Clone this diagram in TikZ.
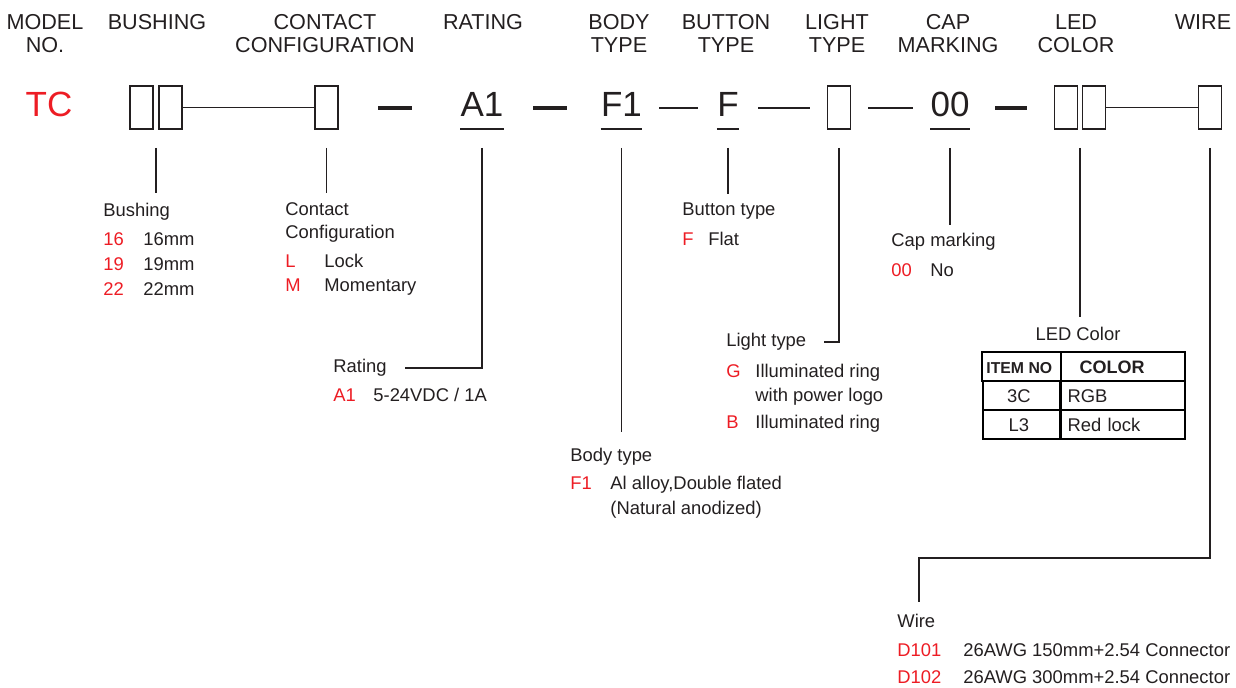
\documentclass[tikz,border=0pt]{standalone}
\usepackage{fontspec}
\setmainfont{Liberation Sans}
\usetikzlibrary{calc,matrix}

\definecolor{ink}{RGB}{35,31,32}
\definecolor{codered}{RGB}{237,28,36}

\begin{document}
\begin{tikzpicture}[
    x=0.5pt, y=-0.5pt,
    color=ink,
    hdr/.style={font=\fontsize{10.8}{11.5}\selectfont, align=center, anchor=base, inner sep=0},
    codetxt/.style={font=\fontsize{17.5}{20}\selectfont, anchor=base, inner sep=0, text height=12.5pt, text depth=3.5pt},
    codebox/.style={draw, line width=0.9pt, minimum width=11.5pt, minimum height=21.5pt, inner sep=0},
    thickbar/.style={fill, inner sep=0, minimum height=2.3pt},
    thinbar/.style={fill, inner sep=0, minimum height=0.8pt},
    leader/.style={line width=0.85pt},
    lbl/.style={font=\fontsize{9.2}{11.5}\selectfont, anchor=base west, inner sep=0},
    opt/.style={lbl, text=codered}
]
\useasboundingbox (0,0) rectangle (1236,688);

% Column headings (two-line ones sit on their last line)
\node[hdr] (hModel) at (45,53) {MODEL\\NO.};
\node[hdr] (hBush) at (157,30) {BUSHING};
\node[hdr] (hContact) at (325,53) {CONTACT\\CONFIGURATION};
\node[hdr] (hRating) at (483,30) {RATING};
\node[hdr] (hBody) at (619,53) {BODY\\TYPE};
\node[hdr] (hButton) at (726,53) {BUTTON\\TYPE};
\node[hdr] (hLight) at (837,53) {LIGHT\\TYPE};
\node[hdr] (hCap) at (948,53) {CAP\\MARKING};
\node[hdr] (hLed) at (1076,53) {LED\\COLOR};
\node[hdr] (hWire) at (1203,30) {WIRE};

% Part number
\node[codetxt, text=codered] (tc) at (49,117) {TC};
\node[codebox] (bushA) at (141.5,107.5) {};
\node[codebox] (bushB) at (170.5,107.5) {};
\node[codebox] (contact) at (326.5,107.5) {};
\node[thickbar, minimum width=17pt] (dash1) at (395,108) {};
\node[codetxt] (rating) at (482,117) {A1};
\node[thickbar, minimum width=17pt] (dash2) at (550,108) {};
\node[codetxt] (body) at (621.5,117) {F1};
\node[thinbar, minimum width=19.5pt] (dash3) at (678.5,108) {};
\node[codetxt] (button) at (728,117) {F};
\node[thinbar, minimum width=26pt] (dash4) at (784,108) {};
\node[codebox] (light) at (839,107.5) {};
\node[thinbar, minimum width=22.5pt] (dash5) at (890.5,108) {};
\node[codetxt] (cap) at (950,117) {00};
\node[thickbar, minimum width=16pt] (dash6) at (1011,108) {};
\node[codebox] (ledA) at (1066,107.5) {};
\node[codebox] (ledB) at (1094,107.5) {};
\node[codebox] (wire) at (1210,107.5) {};

\draw[leader] (bushB) -- (contact);
\draw[leader] (ledB) -- (wire);

% Underlined codes
\draw[leader] ([yshift=-6pt]rating.base west) -- ([yshift=-6pt]rating.base east);
\draw[leader] ([yshift=-6pt]body.base west) -- ([yshift=-6pt]body.base east);
\draw[leader] ([yshift=-6pt]button.base west) -- ([yshift=-6pt]button.base east);
\draw[leader] ([yshift=-6pt]cap.base west) -- ([yshift=-6pt]cap.base east);

% Bushing
\node[lbl] (bushLbl) at (103,217) {Bushing};
\node[opt] (bush16) at (103,246) {16};
\node[lbl] (bush16v) at (143,246) {16mm};
\node[opt] (bush19) at (103,271) {19};
\node[lbl] (bush19v) at (143,271) {19mm};
\node[opt] (bush22) at (103,296) {22};
\node[lbl] (bush22v) at (143,296) {22mm};

% Contact configuration
\node[lbl] (contactLbl) at (285,216) {Contact};
\node[lbl] (contactLbl2) at (285,239) {Configuration};
\node[opt] (contactL) at (285,268) {L};
\node[lbl] (contactLv) at (324,268) {Lock};
\node[opt] (contactM) at (285,292) {M};
\node[lbl] (contactMv) at (324,292) {Momentary};

% Rating
\node[lbl] (ratingLbl) at (333,373) {Rating};
\node[opt] (ratingA1) at (333,402) {A1};
\node[lbl] (ratingA1v) at (373,402) {5-24VDC / 1A};

% Body type
\node[lbl] (bodyLbl) at (570,462) {Body type};
\node[opt] (bodyF1) at (570,490) {F1};
\node[lbl] (bodyF1v) at (610,490) {Al alloy,Double flated};
\node[lbl] (bodyF1w) at (610,515) {(Natural anodized)};

% Button type
\node[lbl] (buttonLbl) at (682,216) {Button type};
\node[opt] (buttonF) at (682,246) {F};
\node[lbl] (buttonFv) at (708,246) {Flat};

% Light type
\node[lbl] (lightLbl) at (726,347) {Light type};
\node[opt] (lightG) at (726,378) {G};
\node[lbl] (lightGv) at (755,378) {Illuminated ring};
\node[lbl] (lightGw) at (755,402) {with power logo};
\node[opt] (lightB) at (726,429) {B};
\node[lbl] (lightBv) at (755,429) {Illuminated ring};

% Cap marking
\node[lbl] (capLbl) at (891,247) {Cap marking};
\node[opt] (cap00) at (891,277) {00};
\node[lbl] (cap00v) at (930,277) {No};

% LED color
\node[lbl, anchor=base] (ledLbl) at (1078,341) {LED Color};
\matrix (ledTab) [matrix of nodes, anchor=north west, inner sep=0,
    column sep=-1pt, row sep=-1pt,
    nodes={draw, line width=1pt, minimum height=14.5pt, text height=6.6pt, text depth=0pt,
           inner xsep=3.5pt, font=\fontsize{9.2}{11}\selectfont},
    column 1/.style={nodes={minimum width=38.5pt, inner xsep=2pt, align=center}},
    column 2/.style={nodes={text width=55pt, align=left}}] at (981,351) {
  |[font=\fontsize{7.9}{9}\selectfont\bfseries]| ITEM NO & |[font=\fontsize{9}{10}\selectfont\bfseries]| \hspace*{6pt}COLOR \\
  3C & RGB \\
  L3 & Red lock \\
};

% Wire
\node[lbl] (wireLbl) at (897,628) {Wire};
\node[opt] (wireD1) at (897,656) {D101};
\node[lbl] (wireD1v) at (963,656) {26AWG 150mm+2.54 Connector};
\node[opt] (wireD2) at (897,683) {D102};
\node[lbl] (wireD2v) at (963,683) {26AWG 300mm+2.54 Connector};

% Leader lines
\coordinate (lead) at (0,148);
\coordinate (bushMid) at ($(bushA)!.5!(bushB)$);
\coordinate (ledMid) at ($(ledA)!.5!(ledB)$);
\coordinate (wireBend) at (919,558);

\draw[leader, shorten >=5.3pt] (bushMid |- lead) -- (bushMid |- bushLbl.north);
\draw[leader, shorten >=4.8pt] (contact |- lead) -- (contact |- contactLbl.north);
\draw[leader] (rating |- lead) |- ([xshift=9pt]ratingLbl.east);
\draw[leader, shorten >=8.3pt] (body |- lead) -- (body |- bodyLbl.north);
\draw[leader, shorten >=4.3pt] (button |- lead) -- (button |- buttonLbl.north);
\draw[leader] (light |- lead) |- ([xshift=8.5pt]lightLbl.east);
\draw[leader, shorten >=4.3pt] (cap |- lead) -- (cap |- capLbl.north);
\draw[leader, shorten >=5.3pt] (ledMid |- lead) -- (ledMid |- ledLbl.north);
\draw[leader, shorten >=6.3pt] (wire |- lead) |- (wireBend) -- (wireBend |- wireLbl.north);

\end{tikzpicture}
\end{document}
